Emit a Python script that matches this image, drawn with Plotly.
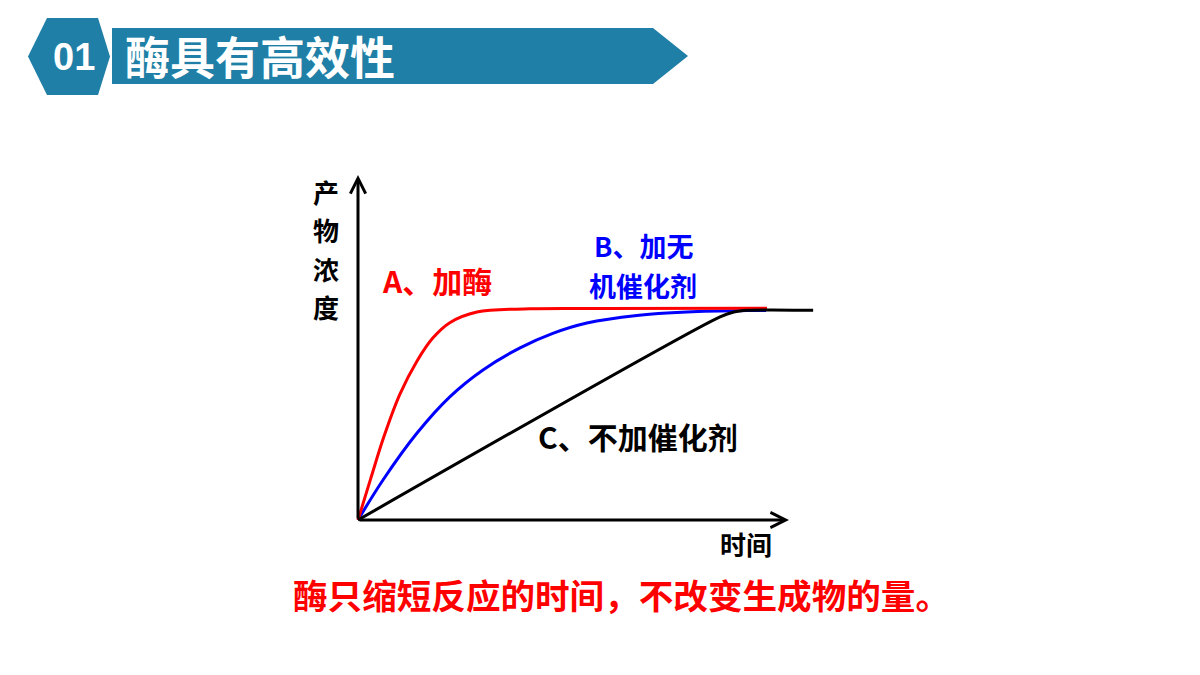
import plotly.graph_objects as go

# ---- data (arbitrary units) ----
time_A = [0, 0.30, 0.60, 0.97, 1.37, 1.74, 2.13, 2.76, 3.99, 5.61, 9.49]
conc_A = [0, 1.22, 2.41, 3.64, 4.61, 5.28, 5.72, 6.03, 6.12, 6.13, 6.14]

time_B = [0, 0.58, 1.37, 2.13, 2.90, 3.76, 4.52, 5.31, 6.47, 7.63, 9.03, 9.47]
conc_B = [0, 1.16, 2.52, 3.57, 4.35, 4.99, 5.41, 5.71, 5.93, 6.03, 6.07, 6.07]

time_C = [0, 8.40, 8.72, 9.05, 9.56, 10.56]
conc_C = [0, 5.89, 6.03, 6.08, 6.09, 6.08]

axis_len_x = 10
axis_len_y = 10

title_num = "01"
title_text = "酶具有高效性"
y_label_chars = ["产", "物", "浓", "度"]
x_label = "时间"
label_A = "A、加酶"
label_B_lines = ["B、加无", "机催化剂"]
label_C = "C、不加催化剂"
conclusion = "酶只缩短反应的时间，不改变生成物的量。"

OFF = 8                     # default page margin of the html body
W, H = 1200 - 2 * OFF, 675 - 2 * OFF
CJK = "Noto Sans CJK SC, Microsoft YaHei, sans-serif"
BANNER = "#1F7FA6"

# pixel -> data mapping for hidden axes covering the whole canvas
ox, oy = 358 - OFF, 520 - OFF   # origin in figure pixels
sx, sy = 43.1, 34.5             # pixels per unit
xr = [(0 - ox) / sx, (W - ox) / sx]
yr = [(oy - H) / sy, (oy - 0) / sy]


def px(x):
    return (x - OFF) / W


def py(y):
    return 1 - (y - OFF) / H


fig = go.Figure()

fig.add_trace(go.Scatter(x=time_B, y=conc_B, mode="lines",
                         line=dict(color="#0000FF", width=3, shape="spline", smoothing=1.0),
                         hoverinfo="skip"))
fig.add_trace(go.Scatter(x=time_A, y=conc_A, mode="lines",
                         line=dict(color="#FF0000", width=3, shape="spline", smoothing=1.0),
                         hoverinfo="skip"))
fig.add_trace(go.Scatter(x=time_C, y=conc_C, mode="lines",
                         line=dict(color="#000000", width=3, shape="spline", smoothing=0.8),
                         hoverinfo="skip"))

shapes = []
hexpts = [(28, 56.5), (47, 18), (98, 18), (110, 56.5), (98, 95), (47, 95)]
path = "M " + " L ".join(f"{px(a):.5f},{py(b):.5f}" for a, b in hexpts) + " Z"
shapes.append(dict(type="path", path=path, xref="paper", yref="paper",
                   fillcolor=BANNER, line=dict(width=0), layer="below"))
banpts = [(112, 28), (653, 28), (688, 56), (653, 84), (112, 84)]
path = "M " + " L ".join(f"{px(a):.5f},{py(b):.5f}" for a, b in banpts) + " Z"
shapes.append(dict(type="path", path=path, xref="paper", yref="paper",
                   fillcolor=BANNER, line=dict(width=0), layer="below"))

annotations = [
    dict(x=axis_len_x, y=0, ax=0, ay=0, xref="x", yref="y", axref="x", ayref="y",
         text="", showarrow=True, arrowhead=5, arrowwidth=3, arrowsize=1, arrowcolor="#000"),
    dict(x=0, y=axis_len_y, ax=0, ay=0, xref="x", yref="y", axref="x", ayref="y",
         text="", showarrow=True, arrowhead=5, arrowwidth=3, arrowsize=1, arrowcolor="#000"),
    dict(x=px(74), y=py(57), xref="paper", yref="paper", text=title_num, showarrow=False,
         font=dict(family="Liberation Sans Narrow, Arial Narrow, Liberation Sans, Arial", size=38,
                   color="white", weight=700),
         xanchor="center", yanchor="middle"),
    dict(x=px(123), y=py(55), xref="paper", yref="paper", text=title_text, showarrow=False,
         font=dict(family=CJK, size=45, color="white", weight=700),
         xanchor="left", yanchor="middle"),
    dict(x=px(746), y=py(543), xref="paper", yref="paper", text=x_label, showarrow=False,
         font=dict(family=CJK, size=26, color="black", weight=700),
         xanchor="center", yanchor="middle"),
    dict(x=px(437), y=py(280), xref="paper", yref="paper", text=label_A, showarrow=False,
         font=dict(family=CJK, size=30, color="#FF0000", weight=700),
         xanchor="center", yanchor="middle"),
    dict(x=px(638), y=py(436), xref="paper", yref="paper", text=label_C, showarrow=False,
         font=dict(family=CJK, size=30, color="black", weight=700),
         xanchor="center", yanchor="middle"),
    dict(x=px(621), y=py(594), xref="paper", yref="paper", text=conclusion, showarrow=False,
         font=dict(family=CJK, size=34.6, color="#FF0000", weight=700),
         xanchor="center", yanchor="middle"),
]
# label B on two rows
for txt, yy in zip(label_B_lines, [245, 285]):
    annotations.append(dict(x=px(643), y=py(yy), xref="paper", yref="paper", text=txt,
                            showarrow=False,
                            font=dict(family=CJK, size=27, color="#0000FF", weight=700),
                            xanchor="center", yanchor="middle"))
# vertical y-axis label, one character per row
y_rows = [191, 229.5, 268, 306.5]
for ch, yy in zip(y_label_chars, y_rows):
    annotations.append(dict(x=px(326), y=py(yy), xref="paper", yref="paper", text=ch,
                            showarrow=False,
                            font=dict(family=CJK, size=26, color="black", weight=700),
                            xanchor="center", yanchor="middle"))

fig.update_layout(
    width=W, height=H,
    margin=dict(l=0, r=0, t=0, b=0),
    paper_bgcolor="white", plot_bgcolor="white",
    showlegend=False,
    xaxis=dict(range=xr, visible=False, fixedrange=True),
    yaxis=dict(range=yr, visible=False, fixedrange=True),
    shapes=shapes,
    annotations=annotations,
)

fig.write_html("out.html", config={"displayModeBar": False})
